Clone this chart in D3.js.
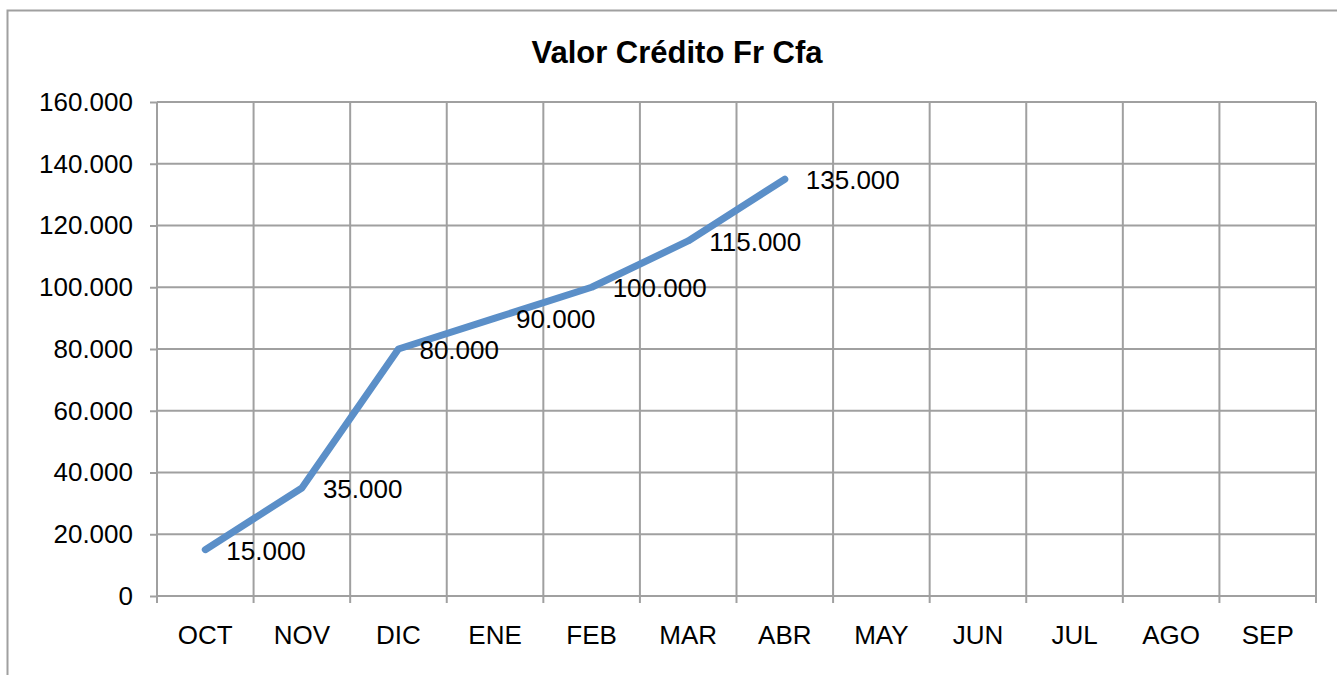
<!DOCTYPE html>
<html>
<head>
<meta charset="utf-8">
<script src="https://cdn.jsdelivr.net/npm/d3@7"></script>
<style>
  body { margin: 0; background: #fff; }
  svg { display: block; font-family: "Liberation Sans", Arial, sans-serif; }
  .grid line { stroke: #a0a0a0; stroke-width: 2; }
  .axis path, .axis line { stroke: #a0a0a0; stroke-width: 2; }
  .axis text { font-size: 26px; fill: #000; }
</style>
</head>
<body>
<script>
let months = ['OCT', 'NOV', 'DIC', 'ENE', 'FEB', 'MAR', 'ABR', 'MAY', 'JUN', 'JUL', 'AGO', 'SEP'];
let values = [15000, 35000, 80000, 90000, 100000, 115000, 135000];
let yTicks = [0, 20000, 40000, 60000, 80000, 100000, 120000, 140000, 160000];

let W = 1337, H = 675;
let margin = {left: 157, top: 102, right: 21, bottom: 79};
let width = W - margin.left - margin.right;
let height = H - margin.top - margin.bottom;

let fmt = v => v === 0 ? '0' : d3.format(',')(v).replace(/,/g, '.');

let svg = d3.select('body').append('svg')
  .attr('width', W)
  .attr('height', H);

// outer chart border
svg.append('rect')
  .attr('x', 7.5).attr('y', 10.5)
  .attr('width', W).attr('height', H)
  .attr('fill', 'none')
  .attr('stroke', '#a0a0a0')
  .attr('stroke-width', 2);

svg.append('text')
  .attr('x', 677).attr('y', 63)
  .attr('text-anchor', 'middle')
  .attr('font-size', 31)
  .attr('font-weight', 'bold')
  .text('Valor Crédito Fr Cfa');

let x = d3.scaleBand().domain(months).range([0, width]);
let y = d3.scaleLinear().domain([0, 160000]).range([height, 0]);

let g = svg.append('g')
  .attr('transform', 'translate(' + margin.left + ',' + margin.top + ')');

// horizontal grid
g.append('g').attr('class', 'grid')
  .selectAll('line').data(yTicks).join('line')
  .attr('x1', 0).attr('x2', width)
  .attr('y1', d => y(d)).attr('y2', d => y(d));

// vertical grid at category boundaries
let bounds = months.map(m => x(m)).concat([width]);
g.append('g').attr('class', 'grid')
  .selectAll('line').data(bounds).join('line')
  .attr('x1', d => d).attr('x2', d => d)
  .attr('y1', 0).attr('y2', height);

// y axis
let yAxis = g.append('g').attr('class', 'axis')
  .call(d3.axisLeft(y).tickValues(yTicks).tickFormat(fmt).tickSize(7).tickPadding(17));
yAxis.select('.domain').remove();

// x axis
let xAxis = g.append('g').attr('class', 'axis')
  .attr('transform', 'translate(0,' + height + ')')
  .call(d3.axisBottom(x).tickSize(0).tickPadding(30));
xAxis.select('.domain').remove();
xAxis.selectAll('.tick line').remove();
xAxis.append('g').selectAll('line').data(bounds).join('line')
  .attr('x1', d => d).attr('x2', d => d)
  .attr('y1', 0).attr('y2', 7);

let pts = values.map((v, i) => ({m: months[i], v: v}));

let line = d3.line()
  .x(d => x(d.m) + x.bandwidth() / 2)
  .y(d => y(d.v));

g.append('path')
  .attr('d', line(pts))
  .attr('fill', 'none')
  .attr('stroke', '#5b8fc8')
  .attr('stroke-width', 7)
  .attr('stroke-linecap', 'round')
  .attr('stroke-linejoin', 'round');

g.append('g').selectAll('text').data(pts).join('text')
  .attr('x', d => x(d.m) + x.bandwidth() / 2 + 21)
  .attr('y', d => y(d.v) + 10)
  .attr('font-size', 26)
  .text(d => fmt(d.v));
</script>
</body>
</html>
